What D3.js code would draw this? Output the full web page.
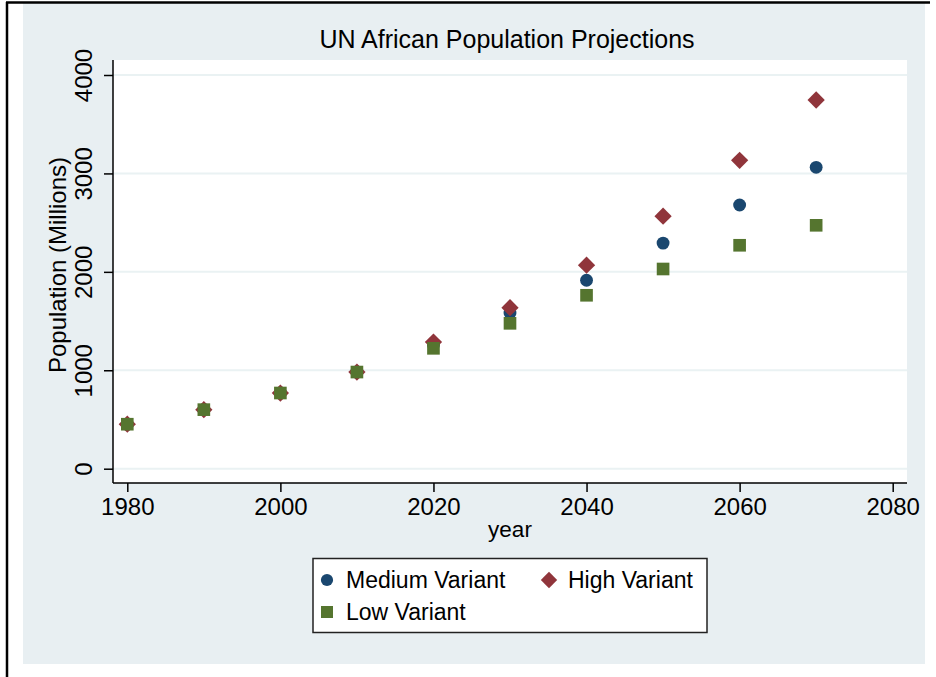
<!DOCTYPE html>
<html>
<head>
<meta charset="utf-8">
<script src="https://cdn.jsdelivr.net/npm/d3@7"></script>
<style>
  body { margin: 0; background: #fff; }
  text { font-family: Arial, "Liberation Sans", sans-serif; fill: #000; }
</style>
</head>
<body>
<script>
const years = [1980, 1990, 2000, 2010, 2020, 2030, 2040, 2050, 2060, 2070];
const medium = [452, 600, 769, 982, 1258, 1582, 1915, 2292, 2679, 3062];
const high = [452, 600, 769, 982, 1287, 1636, 2068, 2566, 3133, 3746];
const low = [452, 600, 769, 982, 1223, 1477, 1762, 2029, 2270, 2473];
const xTicks = [1980, 2000, 2020, 2040, 2060, 2080];
const yTicks = [0, 1000, 2000, 3000, 4000];

const series = [
    {name: 'Medium Variant', values: medium, color: '#1a476f', shape: d3.symbolCircle, size: 130},
    {name: 'High Variant', values: high, color: '#90353b', shape: d3.symbolDiamond2, size: 190},
    {name: 'Low Variant', values: low, color: '#55752f', shape: d3.symbolSquare, size: 160}
];

const svg = d3.select('body').append('svg')
    .attr('width', 936)
    .attr('height', 677);

// frame + graph region
svg.append('rect').attr('x', 23).attr('y', 3).attr('width', 902).attr('height', 661).attr('fill', '#e8eff2');
svg.append('line').attr('x1', 7).attr('x2', 7).attr('y1', 2).attr('y2', 677).attr('stroke', '#000').attr('stroke-width', 2.5);
svg.append('line').attr('x1', 6).attr('x2', 930).attr('y1', 2.5).attr('y2', 2.5).attr('stroke', '#000').attr('stroke-width', 2.5);

const plotL = 113, plotR = 907, plotT = 60, plotB = 483;

svg.append('rect').attr('x', plotL).attr('y', plotT)
    .attr('width', plotR - plotL).attr('height', plotB - plotT).attr('fill', '#fff');

let x = d3.scaleLinear().domain([1980, 2080]).range([127.3, 892.7]);
let y = d3.scaleLinear().domain([0, 4000]).range([468.7, 75]);

// grid
svg.append('g').selectAll('line')
    .data(yTicks)
    .enter()
    .append('line')
    .attr('x1', plotL).attr('x2', plotR)
    .attr('y1', (d) => y(d)).attr('y2', (d) => y(d))
    .attr('stroke', '#eaf2f3')
    .attr('stroke-width', 2);

// axes
let yAxis = svg.append('g')
    .attr('transform', `translate(${plotL},0)`)
    .call(d3.axisLeft(y).tickValues(yTicks).tickSize(9).tickFormat(d3.format('d')));
yAxis.select('.domain').attr('d', `M0,${plotT}V${plotB}`);
// stata draws the y labels rotated
yAxis.selectAll('.tick text')
    .attr('transform', 'rotate(-90)')
    .attr('x', 0)
    .attr('y', -21)
    .attr('dy', 0)
    .attr('text-anchor', 'middle');

let xAxis = svg.append('g')
    .attr('transform', `translate(0,${plotB})`)
    .call(d3.axisBottom(x).tickValues(xTicks).tickSize(9).tickFormat(d3.format('d')));
xAxis.select('.domain').attr('d', `M${plotL},0H${plotR}`);
xAxis.selectAll('.tick text').attr('y', 32).attr('dy', 0);

svg.selectAll('.domain, .tick line').attr('stroke', '#000').attr('stroke-width', 1.5);
svg.selectAll('.tick text').style('font-size', '24px').attr('fill', '#000');

// titles
svg.append('text')
    .attr('x', 507).attr('y', 48)
    .attr('text-anchor', 'middle')
    .style('font-size', '25px')
    .text('UN African Population Projections');

svg.append('text')
    .attr('x', 510).attr('y', 537)
    .attr('text-anchor', 'middle')
    .style('font-size', '22.5px')
    .text('year');

svg.append('text')
    .attr('transform', 'translate(66,265) rotate(-90)')
    .attr('text-anchor', 'middle')
    .style('font-size', '24px')
    .text('Population (Millions)');

// points
series.forEach((s) => {
    svg.append('g').selectAll('path')
        .data(years.map((yr, i) => [yr, s.values[i]]))
        .enter()
        .append('path')
        .attr('d', d3.symbol().type(s.shape).size(s.size))
        .attr('transform', (d) => `translate(${x(d[0])},${y(d[1])})`)
        .attr('fill', s.color);
});

// legend
const legend = svg.append('g');
legend.append('rect')
    .attr('x', 313).attr('y', 558.5).attr('width', 394).attr('height', 74)
    .attr('fill', '#fff').attr('stroke', '#222').attr('stroke-width', 1.5);

const legendPos = [[327, 580], [549, 580], [327, 612]];
series.forEach((s, i) => {
    const [lx, ly] = legendPos[i];
    legend.append('path')
        .attr('d', d3.symbol().type(s.shape).size(s.size * 0.9))
        .attr('transform', `translate(${lx},${ly})`)
        .attr('fill', s.color);
    legend.append('text')
        .attr('x', lx + 19).attr('y', ly + 8)
        .style('font-size', '23px')
        .text(s.name);
});
</script>
</body>
</html>
